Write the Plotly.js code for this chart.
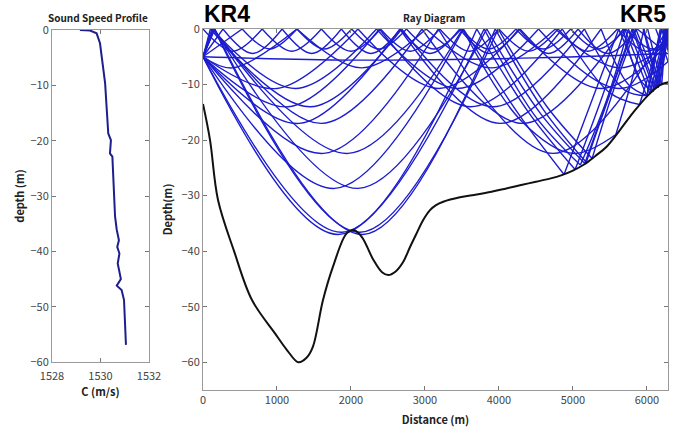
<!DOCTYPE html>
<html>
<head>
<meta charset="utf-8">
<script src="https://cdn.plot.ly/plotly-3.0.1.min.js"></script>
<style>html,body{margin:0;padding:0;background:#fff;}#chart{width:689px;height:434px;}</style>
</head>
<body>
<div id="chart"></div>
<script>
// ---- Sound speed profile (left panel) ----
const sspSpeed = [1529.15,1529.57,1529.84,1529.98,1530.05,1530.19,1530.26,1530.32,1530.43,1530.39,1530.49,1530.53,1530.60,1530.67,1530.76,1530.69,1530.78,1530.71,1530.80,1530.84,1530.67,1530.87,1530.97,1531.01,1531.05];
const sspDepth = [0,-0.1,-0.6,-2.4,-4.8,-9.6,-14.5,-18.7,-19.9,-22.3,-22.9,-27.7,-33.7,-36.1,-38.0,-39.2,-40.4,-42.2,-44.6,-45.0,-46.2,-47.0,-48.8,-52.4,-56.9];

// ---- Bathymetry (ray diagram) ----
const bottomDist = [0,95,203,420,662,973,1135,1288,1400,1486,1622,1757,1941,2041,2150,2300,2420,2504,2600,2703,2800,2887,2980,3068,3150,3247,3473,3700,3900,4100,4300,4500,4700,4850,5000,5150,5300,5455,5635,5811,6018,6176,6288];
const bottomDepth = [-13.5,-20,-30.8,-40,-48.8,-54.8,-57.8,-60,-59.2,-57.2,-48.8,-42.8,-36.8,-36.2,-37.5,-41.5,-43.8,-44.3,-43.7,-42.0,-39.2,-36.8,-34.3,-32.6,-31.7,-31.1,-30.3,-29.8,-29.3,-28.7,-28.1,-27.5,-26.9,-26.3,-25.5,-24.4,-22.9,-21.2,-18.2,-15.1,-11.9,-10.1,-9.6];

// ---- Ray paths: vertices (null = reflection break) ----
const rayA1X = [0,1830,3800,null,3800,4480,5100,null,5100,5450,5750,null,5750,6075,null,6075,6275,null,6275,6400];
const rayA1Z = [-5,-37,0,null,0,-15.5,-24.5,null,-24.5,-13,0,null,0,-11.3,null,-11.3,0,null,0,-8];
const rayA2X = [0,160,null,160,2160,3950,null,3950,4600,5180,null,5180,5520,5820,null,5820,6120,null,6120,6300];
const rayA2Z = [-5,0,null,0,-37,0,null,0,-14.5,-24,null,-24,-11,0,null,0,-10.7,null,-10.7,0];
const rayR1X = [0,1880,3700,null,3700,4400,5030,null,5030,5400,5700,null,5700,6040,null,6040,6250];
const rayR1Z = [-5,-36.6,0,null,0,-15,-25.3,null,-25.3,-12,0,null,0,-11.6,null,-11.6,0];
const rayR2X = [0,150,null,150,2120,3990,null,3990,4650,5260,null,5260,5550,5850,null,5850,6160,null,6160,6290];
const rayR2Z = [-5,0,null,0,-36.6,0,null,0,-14,-23.3,null,-23.3,-11,0,null,0,-10.2,null,-10.2,0];
const rayB1X = [0,1780,3520,null,3520,4250,4880,null,4880,5280,5620,null,5620,6000,null,6000,6200,null,6200,6400];
const rayB1Z = [-5,-28.7,0,null,0,-15,-26.2,null,-26.2,-12,0,null,0,-12.1,null,-12.1,0,null,0,-9];
const rayB2X = [0,150,null,150,2095,3835,null,3835,4550,5160,null,5160,5500,5800,null,5800,6100,null,6100,6290];
const rayB2Z = [-5,0,null,0,-28.7,0,null,0,-15,-24.2,null,-24.2,-11.5,0,null,0,-11,null,-11,0];
const rayC1X = [0,1630,3180,null,3180,4730,6280];
const rayC1Z = [-5,-22.4,0,null,0,-22.4,0];
const rayC2X = [0,140,null,140,1960,3510,null,3510,4300,5000,5580,null,5580,5800,5960,null,5960,6170,null,6170,6300];
const rayC2Z = [-5,0,null,0,-22.4,0,null,0,-16.5,-22.4,-19,null,-19,-9,0,null,0,-10.2,null,-10.2,0];
const rayD1X = [0,1300,2660,null,2660,4020,5380,null,5380,5750,6000,null,6000,6200];
const rayD1Z = [-5,-17,0,null,0,-17,0,null,0,-10,-12,null,-12,0];
const rayD2X = [0,140,null,140,1600,2960,null,2960,4320,5680,null,5680,5900,6080,null,6080,6260];
const rayD2Z = [-5,0,null,0,-17,0,null,0,-17,0,null,0,-9,-11.3,null,-11.3,0];
const rayE1X = [0,1000,2095,null,2095,3190,4285,null,4285,5380,6475];
const rayE1Z = [-5,-10.7,0,null,0,-10.7,0,null,0,-10.7,0];
const rayE2X = [0,120,null,120,1250,2345,null,2345,3440,4535,null,4535,5630,6725];
const rayE2Z = [-5,0,null,0,-10.7,0,null,0,-10.7,0,null,0,-10.7,0];
const rayF1X = [0,1150,2385,null,2385,3620,4855,null,4855,5500,5900,null,5900,6100,6200];
const rayF1Z = [-5,-14,0,null,0,-14,0,null,0,-11.5,-13.6,null,-13.6,-5,0];
const rayF2X = [0,100,null,100,1450,2685,null,2685,3920,5155,null,5155,5700,6000,null,6000,6180];
const rayF2Z = [-5,0,null,0,-14,0,null,0,-14,0,null,0,-11,-12,null,-12,0];
const rayG1X = [0,400,1270,null,1270,2143,3016,null,3016,3890,4763,null,4763,5636,6509];
const rayG1Z = [-5,-7,0,null,0,-7,0,null,0,-7,0,null,0,-7,0];
const rayH1X = [0,400,800,null,800,1200,1600,null,1600,2000,2400,null,2400,2800,3200,null,3200,3600,4000,null,4000,4400,4800,null,4800,5200,5600,null,5600,6000,6400];
const rayH1Z = [0,-4,0,null,0,-4,0,null,0,-4,0,null,0,-4,0,null,0,-4,0,null,0,-4,0,null,0,-4,0,null,0,-4,0];
const rayH2X = [0,270,null,270,670,1070,null,1070,1470,1870,null,1870,2270,2670,null,2670,3070,3470,null,3470,3870,4270,null,4270,4670,5070,null,5070,5470,5870,null,5870,6270];
const rayH2Z = [-5,0,null,0,-4.4,0,null,0,-4.4,0,null,0,-4.4,0,null,0,-4.4,0,null,0,-4.4,0,null,0,-4.4,0,null,0,-4.4,0,null,0,-4.4];
const rayH3X = [0,530,null,530,900,1270,null,1270,1640,2010,null,2010,2380,2750,null,2750,3120,3490,null,3490,3860,4230,null,4230,4600,4970,null,4970,5340,5710,null,5710,6080,6450];
const rayH3Z = [-5,0,null,0,-3.6,0,null,0,-3.6,0,null,0,-3.6,0,null,0,-3.6,0,null,0,-3.6,0,null,0,-3.6,0,null,0,-3.6,0,null,0,-3.6,0];
const rayNX = [0,2000,4500,6300];
const rayNZ = [-5,-5.6,-5.2,-4.4];
// short bounces in the shallow corner near KR5
const rayT1X = [5950,6150,null,6150,6230,null,6230,6300];
const rayT1Z = [0,-10.6,null,-10.6,0,null,0,-4];
const rayT2X = [6010,6200,null,6200,6260,null,6260,6300];
const rayT2Z = [0,-10,null,-10,0,null,0,-3];
const rayT3X = [6120,6290,null,6180,6300,null,6140,6300];
const rayT3Z = [0,-6,null,-6.5,0,null,-4,-1];

const rayXs = [rayA1X,rayA2X,rayR1X,rayR2X,rayB1X,rayB2X,rayC1X,rayC2X,rayD1X,rayD2X,rayE1X,rayE2X,rayF1X,rayF2X,rayG1X,rayH1X,rayH2X,rayH3X,rayNX,rayT1X,rayT2X,rayT3X];
const rayZs = [rayA1Z,rayA2Z,rayR1Z,rayR2Z,rayB1Z,rayB2Z,rayC1Z,rayC2Z,rayD1Z,rayD2Z,rayE1Z,rayE2Z,rayF1Z,rayF2Z,rayG1Z,rayH1Z,rayH2Z,rayH3Z,rayNZ,rayT1Z,rayT2Z,rayT3Z];

const W = 689, H = 434;
const px = v => v / W, py = v => 1 - v / H;
const FAM = 'Noto Sans CJK JP, DejaVu Sans, sans-serif';
const tickFont = {family: FAM, size: 11, color: '#444'};
const titleFont = {family: FAM, size: 11, color: '#222', weight: 'bold'};

const traces = [];
traces.push({x: sspSpeed, y: sspDepth, xaxis: 'x', yaxis: 'y', type: 'scatter', mode: 'lines',
  line: {color: '#1e1e8c', width: 2}, hoverinfo: 'skip', showlegend: false});
for (let i = 0; i < rayXs.length; i++) {
  traces.push({x: rayXs[i], y: rayZs[i], xaxis: 'x2', yaxis: 'y2', type: 'scatter', mode: 'lines',
    connectgaps: false, line: {color: '#1c1cd0', width: 1.4, shape: 'spline', smoothing: 1},
    hoverinfo: 'skip', showlegend: false});
}
traces.push({x: bottomDist, y: bottomDepth, xaxis: 'x2', yaxis: 'y2', type: 'scatter', mode: 'lines',
  line: {color: '#111', width: 2, shape: 'spline', smoothing: 1}, hoverinfo: 'skip', showlegend: false});

const axBase = {showgrid: false, zeroline: false, showline: true, linecolor: '#9a9a9a', linewidth: 1,
  mirror: 'ticks', ticks: 'inside', ticklen: 4, tickcolor: '#777', tickfont: tickFont};

const layout = {
  width: W, height: H,
  margin: {l: 0, r: 0, t: 0, b: 0},
  paper_bgcolor: '#fff', plot_bgcolor: '#fff',
  showlegend: false,
  xaxis: Object.assign({}, axBase, {domain: [px(52), px(149)], range: [1528, 1532], tickvals: [1528, 1530, 1532],
    ticklabelstandoff: 4,
    title: {text: 'C (m/s)', font: titleFont, standoff: 1}}),
  yaxis: Object.assign({}, axBase, {domain: [py(362), py(30)], range: [-60, 0], tickvals: [-60, -50, -40, -30, -20, -10, 0],
    title: {text: 'depth (m)', font: titleFont, standoff: 3}}),
  xaxis2: Object.assign({}, axBase, {anchor: 'y2', domain: [px(203), px(668)], range: [0, 6285],
    tickvals: [0, 1000, 2000, 3000, 4000, 5000, 6000],
    title: {text: 'Distance (m)', font: titleFont, standoff: 10}}),
  yaxis2: Object.assign({}, axBase, {anchor: 'x2', domain: [py(390), py(29)], range: [-65, 0],
    tickvals: [-60, -50, -40, -30, -20, -10, 0],
    title: {text: 'Depth(m)', font: titleFont, standoff: 6}}),
  annotations: [
    {xref: 'paper', yref: 'paper', x: px(98), y: py(17), xanchor: 'center', yanchor: 'middle',
      text: 'Sound Speed Profile', showarrow: false,
      font: {family: FAM, size: 10, color: '#222', weight: 'bold'}},
    {xref: 'paper', yref: 'paper', x: px(434), y: py(17), xanchor: 'center', yanchor: 'middle',
      text: 'Ray Diagram', showarrow: false,
      font: {family: FAM, size: 10, color: '#222', weight: 'bold'}},
    {xref: 'paper', yref: 'paper', x: px(226.5), y: py(14), xanchor: 'center', yanchor: 'middle',
      text: 'KR4', showarrow: false,
      font: {family: 'Liberation Sans, Arial, sans-serif', size: 23, color: '#000', weight: 'bold'}},
    {xref: 'paper', yref: 'paper', x: px(642.5), y: py(14), xanchor: 'center', yanchor: 'middle',
      text: 'KR5', showarrow: false,
      font: {family: 'Liberation Sans, Arial, sans-serif', size: 23, color: '#000', weight: 'bold'}}
  ]
};

Plotly.newPlot('chart', traces, layout, {displayModeBar: false, staticPlot: true});
</script>
</body>
</html>
